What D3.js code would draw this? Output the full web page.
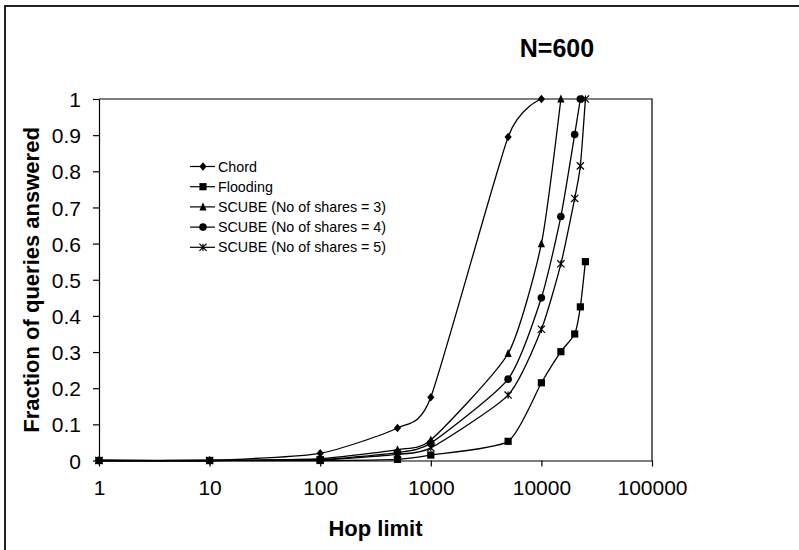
<!DOCTYPE html>
<html><head><meta charset="utf-8">
<script src="https://cdn.jsdelivr.net/npm/d3@7"></script>
<style>body{margin:0;background:#fff;}svg{display:block;font-family:"Liberation Sans",Arial,sans-serif;}</style>
</head><body>
<svg id="c" width="799" height="550"></svg>
<script>
const hops = [1, 10, 100, 500, 1000, 5000, 10000, 15000, 20000, 22500, 25000];
const chord    = [0, 0, 0.02, 0.09, 0.175, 0.895, 1.0];
const flooding = [0, 0, 0, 0.003, 0.015, 0.053, 0.215, 0.301, 0.35, 0.425, 0.55];
const scube3   = [0, 0, 0.005, 0.03, 0.057, 0.296, 0.6, 1.0];
const scube4   = [0, 0, 0.003, 0.022, 0.048, 0.225, 0.45, 0.675, 0.902, 1.0];
const scube5   = [0, 0, 0.002, 0.017, 0.035, 0.181, 0.363, 0.544, 0.725, 0.815, 1.0];
const seriesNames = ["Chord", "Flooding", "SCUBE (No of shares = 3)", "SCUBE (No of shares = 4)", "SCUBE (No of shares = 5)"];
const xTicks = [1, 10, 100, 1000, 10000, 100000];
const yTicks = [0, 0.1, 0.2, 0.3, 0.4, 0.5, 0.6, 0.7, 0.8, 0.9, 1];
const title = "N=600", xTitle = "Hop limit", yTitle = "Fraction of queries answered";

const series = [chord, flooding, scube3, scube4, scube5].map((vals, i) => ({
  name: seriesNames[i], marker: ["diamond","square","triangle","circle","star"][i],
  pts: vals.map((v, j) => [hops[j], v])
}));

const svg = d3.select("#c");
svg.append("rect").attr("x", 5).attr("y", 6).attr("width", 820).attr("height", 580)
  .attr("fill", "#fff").attr("stroke", "#222").attr("stroke-width", 2);

const x = d3.scaleLog().domain([1, 100000]).range([99, 652]);
const y = d3.scaleLinear().domain([0, 1]).range([460.5, 99]);

// plot area border (top & right)
svg.append("path").attr("d", `M${x(1)},${y(1)}H${x(100000)}V${y(0)}`)
  .attr("fill", "none").attr("stroke", "#000").attr("stroke-width", 1.2);

const xAxis = svg.append("g").attr("transform", `translate(0,${y(0)})`)
  .call(d3.axisBottom(x).tickValues(xTicks).tickFormat(d3.format("d")).tickSizeOuter(0).tickSizeInner(6).tickPadding(14));
const yAxis = svg.append("g").attr("transform", `translate(${x(1)},0)`)
  .call(d3.axisLeft(y).tickValues(yTicks).tickFormat(d => d === 0 ? "0" : d === 1 ? "1" : d3.format(".1f")(d)).tickSizeOuter(0).tickSizeInner(6).tickPadding(12));
[xAxis, yAxis].forEach(g => {
  g.select(".domain").attr("stroke", "#000").attr("stroke-width", 1.2);
  g.selectAll(".tick line").attr("stroke", "#000").attr("stroke-width", 1.2);
  g.selectAll(".tick text").attr("fill", "#000").style("font-size", "21px").style("font-family", "'Liberation Sans',Arial,sans-serif");
});
yAxis.selectAll(".tick text").attr("dy", "0.36em");

const line = d3.line().x(d => x(d[0])).y(d => y(d[1])).curve(d3.curveCardinal.tension(0.4));

function marker(g, type, cx, cy) {
  const s = 3.6;
  if (type === "diamond") g.append("path").attr("d", `M${cx},${cy-s-0.6}L${cx+s},${cy}L${cx},${cy+s+0.6}L${cx-s},${cy}Z`).attr("fill", "#000");
  else if (type === "square") g.append("rect").attr("x", cx-s).attr("y", cy-s).attr("width", 2*s).attr("height", 2*s).attr("fill", "#000");
  else if (type === "triangle") g.append("path").attr("d", `M${cx},${cy-s-0.8}L${cx+s},${cy+s}L${cx-s},${cy+s}Z`).attr("fill", "#000");
  else if (type === "circle") g.append("circle").attr("cx", cx).attr("cy", cy).attr("r", s+0.2).attr("fill", "#000");
  else if (type === "star") g.append("path").attr("d", `M${cx-s},${cy-s}L${cx+s},${cy+s}M${cx-s},${cy+s}L${cx+s},${cy-s}M${cx},${cy-s}V${cy+s}`).attr("stroke", "#000").attr("stroke-width", 1.2).attr("fill", "none");
}

const gS = svg.append("g");
series.forEach(s => {
  gS.append("path").attr("d", line(s.pts)).attr("fill", "none").attr("stroke", "#000").attr("stroke-width", 1.3);
});
series.forEach(s => {
  s.pts.forEach(p => marker(gS, s.marker, x(p[0]), y(p[1])));
});

// legend
const leg = svg.append("g");
series.forEach((s, i) => {
  const ly = 166.5 + i * 20.2;
  leg.append("line").attr("x1", 190).attr("x2", 215).attr("y1", ly).attr("y2", ly).attr("stroke", "#000").attr("stroke-width", 1.2);
  marker(leg, s.marker, 203, ly);
  leg.append("text").attr("x", 218).attr("y", ly).attr("dy", "0.36em").style("font-size", "14.3px").attr("fill", "#000").text(s.name);
});

svg.append("text").attr("x", 557).attr("y", 57).attr("text-anchor", "middle").style("font-size", "25px").style("font-weight", "bold").text(title);
svg.append("text").attr("x", 375.5).attr("y", 536).attr("text-anchor", "middle").style("font-size", "22px").style("font-weight", "bold").text(xTitle);
svg.append("text").attr("transform", `translate(39,280) rotate(-90)`).attr("text-anchor", "middle").style("font-size", "22px").style("font-weight", "bold").text(yTitle);
</script>
</body></html>
